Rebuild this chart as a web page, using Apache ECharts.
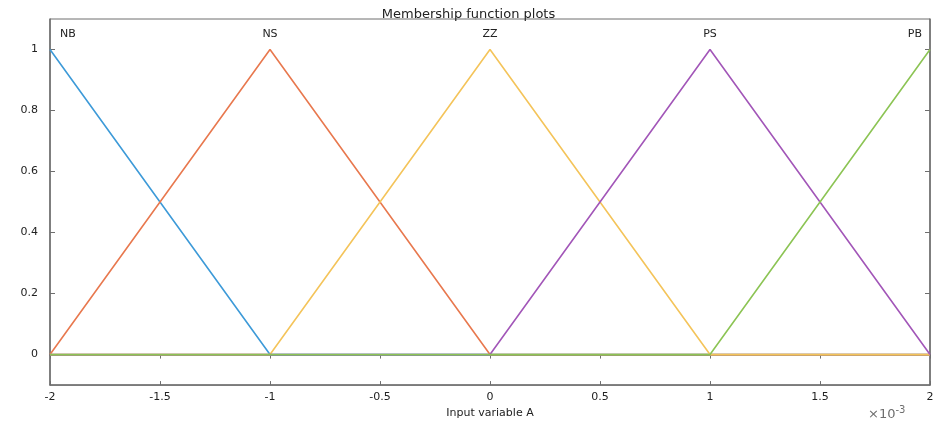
<!DOCTYPE html>
<html><head><meta charset="utf-8">
<script src="https://cdn.jsdelivr.net/npm/echarts@6/dist/echarts.min.js"></script>
<style>html,body{margin:0;padding:0;background:#fff}#c{width:937px;height:424px}</style>
</head><body><div id="c"></div>
<script>
const titleText = 'Membership function plots';
const xName = 'Input variable A';
const mfNames = ['NB', 'NS', 'ZZ', 'PS', 'PB'];
const mfColors = ['#3d9ad8', '#e8784e', '#f4c45a', '#a256b8', '#8cc454'];
const NB = [[-2, 1], [-1, 0], [2, 0]];
const NS = [[-2, 0], [-1, 1], [0, 0], [2, 0]];
const ZZ = [[-2, 0], [-1, 0], [0, 1], [1, 0], [2, 0]];
const PS = [[-2, 0], [0, 0], [1, 1], [2, 0]];
const PB = [[-2, 0], [1, 0], [2, 1]];
const mfData = [NB, NS, ZZ, PS, PB];
const peakIndex = [0, 1, 2, 2, 2];
const yTicks = [0, 0.2, 0.4, 0.6, 0.8, 1];

const font = 'DejaVu Sans';
const axisColor = '#6e6e6e';
const textColor = '#222';

const chart = echarts.init(document.getElementById('c'), null, {renderer: 'canvas'});

const series = mfData.map((d, i) => {
  const data = d.map((p, j) => {
    if (j === peakIndex[i]) {
      let align = 'center', off = [0, 0];
      if (i === 0) { align = 'left'; off = [10, 0]; }
      if (i === mfData.length - 1) { align = 'right'; off = [-8, 0]; }
      return {value: p, label: {show: true, formatter: mfNames[i], position: 'top', align: align, offset: off,
        color: textColor, fontFamily: font, fontSize: 11, distance: 10}};
    }
    return p;
  });
  return {
    type: 'line', name: mfNames[i], data: data, symbol: 'circle', symbolSize: 0.01, showSymbol: true,
    lineStyle: {color: mfColors[i], width: 1.6}, itemStyle: {color: mfColors[i]},
    label: {show: false},
    animation: false, z: 2 + i, clip: false
  };
});

const option = {
  animation: false,
  title: {text: titleText, left: 'center', top: 3,
    textStyle: {fontFamily: font, fontSize: 13, fontWeight: 'normal', color: textColor}},
  grid: {left: 50, right: 7, top: 19, bottom: 37, show: true, borderColor: axisColor, borderWidth: 1},
  xAxis: [{
    type: 'value', min: -2, max: 2, interval: 0.5,
    name: xName, nameLocation: 'middle', nameGap: 22,
    nameTextStyle: {fontFamily: font, fontSize: 11, color: textColor},
    axisLine: {show: true, onZero: false, lineStyle: {color: axisColor, width: 1.5}},
    axisTick: {show: true, inside: true, length: 4, lineStyle: {color: axisColor}},
    axisLabel: {fontFamily: font, fontSize: 11, color: textColor, margin: 7},
    splitLine: {show: false}
  }, {
    type: 'value', position: 'top', min: -2, max: 2, interval: 0.5,
    axisLine: {show: true, lineStyle: {color: axisColor, width: 1.5}},
    axisTick: {show: true, inside: true, length: 4, lineStyle: {color: axisColor}},
    axisLabel: {show: false}, splitLine: {show: false}
  }],
  yAxis: [{
    type: 'value', min: -0.1, max: 1.1,
    axisLine: {show: true, onZero: false, lineStyle: {color: axisColor, width: 1.5}},
    axisTick: {show: true, inside: true, length: 5, customValues: yTicks, lineStyle: {color: axisColor}},
    axisLabel: {fontFamily: font, fontSize: 11, color: textColor, margin: 12, customValues: yTicks},
    splitLine: {show: false}
  }, {
    type: 'value', position: 'right', min: -0.1, max: 1.1,
    axisLine: {show: true, onZero: false, lineStyle: {color: axisColor, width: 1.5}},
    axisTick: {show: true, inside: true, length: 5, customValues: yTicks, lineStyle: {color: axisColor}},
    axisLabel: {show: false}, splitLine: {show: false}
  }],
  graphic: [{
    type: 'text', left: 868, top: 405,
    style: {text: '×10{s|-3}', rich: {s: {fontSize: 10, verticalAlign: 'top', padding: [0, 0, 9, 0], fontFamily: font, fill: axisColor}},
      fontFamily: font, fontSize: 13, fill: axisColor}
  }],
  series: series
};
chart.setOption(option);
</script>
</body></html>
